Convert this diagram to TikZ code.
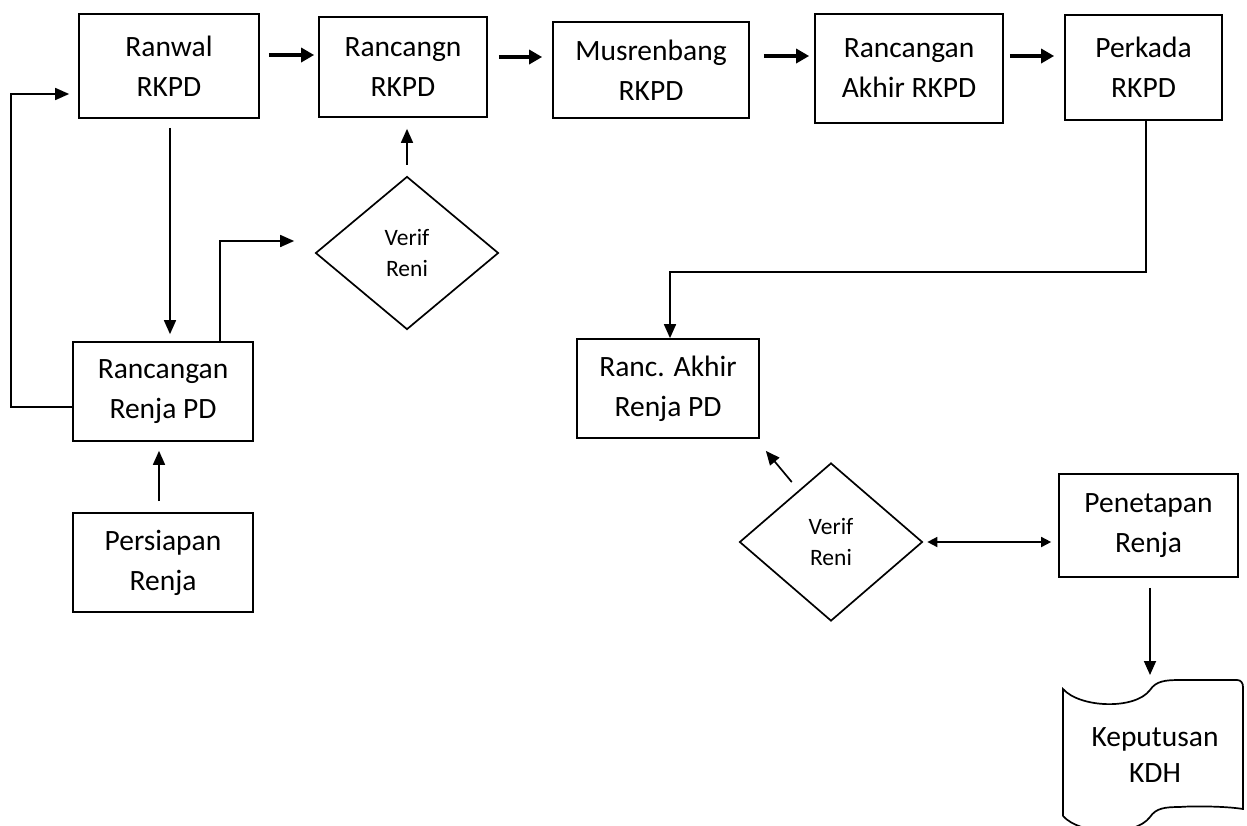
\documentclass[tikz,border=0pt]{standalone}
\usepackage{fontspec}
\setmainfont{Carlito}
\usetikzlibrary{arrows.meta,shapes.geometric,calc}
\begin{document}
\begin{tikzpicture}[x=1pt,y=-1pt,
  box/.style={draw, line width=1.7pt, rectangle, inner sep=0pt, align=center, font=\fontsize{29.5}{40}\selectfont},
  dec/.style={draw, line width=1.7pt, diamond, inner sep=0pt, align=center, font=\fontsize{23.5}{31}\selectfont},
  conn/.style={line width=1.7pt, -{Triangle[length=14pt,width=12pt]}},
  bigarrow/.style={line width=4.5pt, -{Triangle[length=13pt,width=14pt]}},
  twoway/.style={line width=1.7pt, {Triangle[length=10pt,width=10pt]}-{Triangle[length=10pt,width=10pt]}},
  docline/.style={line width=1.7pt}]
\useasboundingbox (0,0) rectangle (1247,825);

% top row
\node[box, minimum width=180pt, minimum height=104pt] (ranwal) at (169,66) {Ranwal\\RKPD};
\node[box, minimum width=168pt, minimum height=100pt] (rancangn) at (403,67) {Rancangn\\RKPD};
\node[box, minimum width=196pt, minimum height=96pt] (musren) at (651,70) {Musrenbang\\RKPD};
\node[box, minimum width=188pt, minimum height=109pt] (rakhir) at (909,68.5) {Rancangan\\Akhir RKPD};
\node[box, minimum width=157pt, minimum height=105pt] (perkada) at (1143.5,67.5) {Perkada\\RKPD};

% left column
\node[box, minimum width=180pt, minimum height=99pt] (renjapd) at (163,391.5) {Rancangan\\Renja PD};
\node[box, minimum width=180pt, minimum height=99pt] (persiapan) at (163,562.5) {Persiapan\\Renja};
\node[dec, minimum width=183pt, minimum height=153pt] (verif1) at (407,253) {Verif\\Reni};

% right part
\node[box, minimum width=182pt, minimum height=99pt] (rancakhir) at (668,388.5) {Ranc. Akhir\\Renja PD};
\node[dec, minimum width=183pt, minimum height=158pt] (verif2) at (831,542) {Verif\\Reni};
\node[box, minimum width=179pt, minimum height=103pt] (penetapan) at (1148.5,525.5) {Penetapan\\Renja};

% document shape
\draw[docline] (1063,816) -- (1063,689)
  .. controls (1080,708) and (1135,710) .. (1150,690)
  .. controls (1156,681) and (1165,680) .. (1180,680)
  -- (1237,680) .. controls (1241,680) and (1243,683) .. (1243,687)
  -- (1243,809) .. controls (1225,806) and (1190,806) .. (1180,807)
  .. controls (1165,807) and (1156,808) .. (1150,817)
  .. controls (1135,837) and (1080,835) .. (1063,816);
\node[align=center, inner sep=0pt, font=\fontsize{29.5}{36}\selectfont] (keputusan) at (1155,755) {Keputusan\\KDH};

% top arrows
\draw[bigarrow] ($(ranwal.east)+(9,-11)$) -- ($(rancangn.west)+(-4,-12)$);
\draw[bigarrow] ($(rancangn.east)+(11,-10)$) -- ($(musren.west)+(-10,-13)$);
\draw[bigarrow] ($(musren.east)+(14,-14)$) -- ($(rakhir.west)+(-5,-12.5)$);
\draw[bigarrow] ($(rakhir.east)+(6,-12.5)$) -- ($(perkada.west)+(-10,-11.5)$);

% left connectors
\draw[conn] ($(ranwal.south)+(1,9)$) -- ($(renjapd.north)+(7,-7)$);
\draw[conn] ($(renjapd.west)+(0,15.5)$) -| ($(ranwal.west)+(-67,28)$) -- ($(ranwal.west)+(-9,28)$);
\draw[conn] ($(persiapan.north)+(-4,-11)$) -- ($(renjapd.south)+(-4,9)$);
\draw[conn] ($(renjapd.north)+(57,0)$) |- ($(verif1.west)+(-20.5,-12)$);
\draw[conn] ($(verif1.north)+(0,-11)$) -- ($(rancangn.south)+(4,11)$);

% right connectors
\draw[conn] ($(perkada.south)+(2.5,0)$) |- ($(rancakhir.north)+(2,-66)$) -- ($(rancakhir.north)+(2,0)$);
\draw[conn] ($(verif2.north west)+(7,-20)$) -- ($(rancakhir.south east)+(6,12)$);
\draw[twoway] ($(verif2.east)+(4,0)$) -- ($(penetapan.west)+(-7,16.5)$);
\draw[conn] ($(penetapan.south)+(1.5,10)$) -- ($(keputusan.center)+(-5,-80)$);
\end{tikzpicture}
\end{document}
